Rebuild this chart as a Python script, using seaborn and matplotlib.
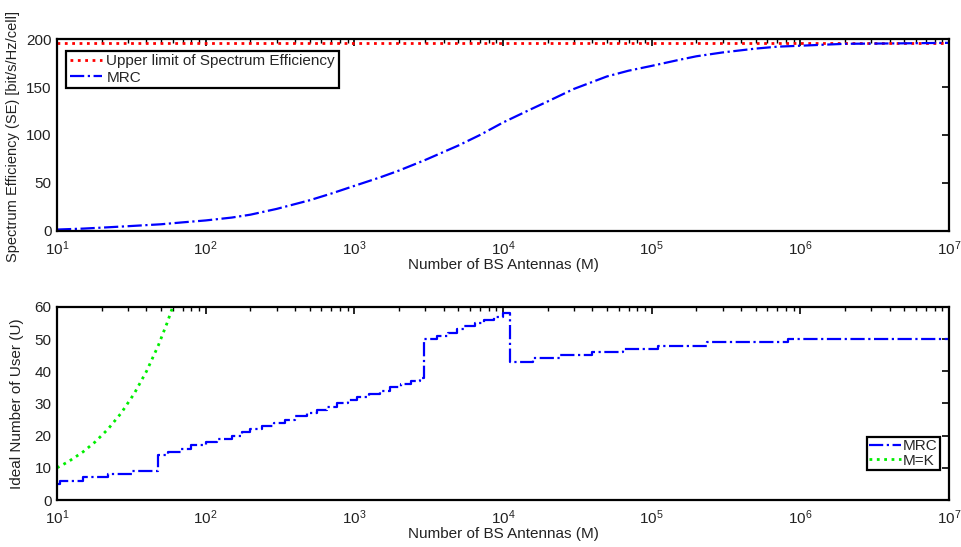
import matplotlib
matplotlib.use("Agg")
import matplotlib.pyplot as plt
import seaborn as sns
from matplotlib.ticker import LogLocator, NullFormatter, FixedLocator

# Top panel: spectrum efficiency vs number of BS antennas
se_m = [10, 15, 20, 30, 50, 70, 100, 150, 200, 300, 500, 700, 1000, 1500, 2000,
        3000, 5000, 7000, 10000, 15000, 20000, 30000, 50000, 70000, 100000,
        150000, 200000, 300000, 500000, 700000, 1000000, 2000000, 5000000, 10000000]
se_mrc = [1.5, 2.5, 3.5, 5, 7, 9, 11, 14, 17, 23, 32, 39, 47, 56, 63,
          74, 89, 100, 113, 126, 135, 148, 161, 167, 172,
          178, 182, 186, 190, 192, 193, 195, 195.5, 196]
se_limit_m = [10, 10000000]
se_limit = [196, 196]

# Bottom panel: ideal number of users (step curve)
u_m = [10, 10.5, 15, 22, 32, 48, 56, 68, 80, 100, 120, 150, 175, 200, 240, 290,
       340, 400, 480, 560, 650, 760, 900, 1050, 1250, 1500, 1750, 2050, 2400,
       2750, 2950, 3600, 4300, 4900, 5500, 6500, 7400, 8700, 10000, 11200,
       16000, 24000, 40000, 64000, 110000, 235000, 830000, 10000000]
u_mrc = [5, 6, 7, 8, 9, 14, 15, 16, 17, 18, 19, 20, 21, 22, 23, 24,
         25, 26, 27, 28, 29, 30, 31, 32, 33, 34, 35, 36, 37,
         38, 50, 51, 52, 53, 54, 55, 56, 57, 58, 43,
         44, 45, 46, 47, 48, 49, 50, 50]
mk_m = [10, 12, 15, 18, 22, 27, 33, 40, 48, 55, 60]
mk_u = [10, 12, 15, 18, 22, 27, 33, 40, 48, 55, 60]

x_ticks = [1e1, 1e2, 1e3, 1e4, 1e5, 1e6, 1e7]

sns.set_style("white")
plt.rcParams["font.family"] = ["Liberation Sans", "DejaVu Sans"]
fs = 11

fig = plt.figure(figsize=(9.61, 5.47), dpi=100)
ax1 = fig.add_axes([0.0593, 0.5777, 0.9282, 0.351])
ax2 = fig.add_axes([0.0593, 0.0859, 0.9282, 0.3529])

sns.lineplot(x=se_limit_m, y=se_limit, ax=ax1, color="red", linestyle=":",
             linewidth=2, label="Upper limit of Spectrum Efficiency")
sns.lineplot(x=se_m, y=se_mrc, ax=ax1, color="blue", linestyle="-.",
             linewidth=1.6, label="MRC")

sns.lineplot(x=u_m, y=u_mrc, ax=ax2, color="blue", linestyle="-.",
             linewidth=1.6, drawstyle="steps-post", label="MRC")
sns.lineplot(x=mk_m, y=mk_u, ax=ax2, color="#00ee00", linestyle=":",
             linewidth=2, label="M=K")

for ax in (ax1, ax2):
    ax.set_xscale("log")
    ax.xaxis.set_major_locator(FixedLocator(x_ticks))
    ax.xaxis.set_minor_locator(LogLocator(base=10, subs=range(2, 10), numticks=100))
    ax.xaxis.set_minor_formatter(NullFormatter())
    ax.set_xlim(10, 1e7)
    ax.tick_params(which="both", direction="in", top=True, right=True,
                   colors="black", labelcolor="#222222", labelsize=fs)
    ax.tick_params(which="major", length=5, width=1.2)
    ax.tick_params(axis="x", which="major", pad=6)
    ax.tick_params(axis="y", which="major", pad=4)
    ax.tick_params(which="minor", length=3, width=1.0)
    for s in ax.spines.values():
        s.set_color("black")
        s.set_linewidth(1.6)
    ax.set_xlabel("Number of BS Antennas (M)", fontsize=fs, labelpad=0, color="#222222")

ax1.set_ylim(0, 200)
ax1.set_yticks([0, 50, 100, 150, 200])
ax1.set_ylabel("Spectrum Efficiency (SE) [bit/s/Hz/cell]", fontsize=10.5, color="#222222")
ax1.yaxis.set_label_coords(-0.042, 0.49)
ax2.set_ylim(0, 60)
ax2.set_yticks([0, 10, 20, 30, 40, 50, 60])
ax2.set_ylabel("Ideal Number of User (U)", fontsize=fs, color="#222222")
ax2.yaxis.set_label_coords(-0.037, 0.5)

leg1 = ax1.legend(loc="upper left", bbox_to_anchor=(0.01, 0.94), fancybox=False,
                  edgecolor="black", framealpha=1, fontsize=fs, borderpad=0.25,
                  labelspacing=0.15, handlelength=2.1, handletextpad=0.3,
                  borderaxespad=0)
leg1.get_frame().set_linewidth(1.6)
leg2 = ax2.legend(loc="lower right", bbox_to_anchor=(0.99, 0.155), fancybox=False,
                  edgecolor="black", framealpha=1, fontsize=fs, borderpad=0.15,
                  labelspacing=0.05, handlelength=2.1, handletextpad=0.1,
                  borderaxespad=0)
leg2.get_frame().set_linewidth(1.6)

fig.savefig("out.png", dpi=100)
